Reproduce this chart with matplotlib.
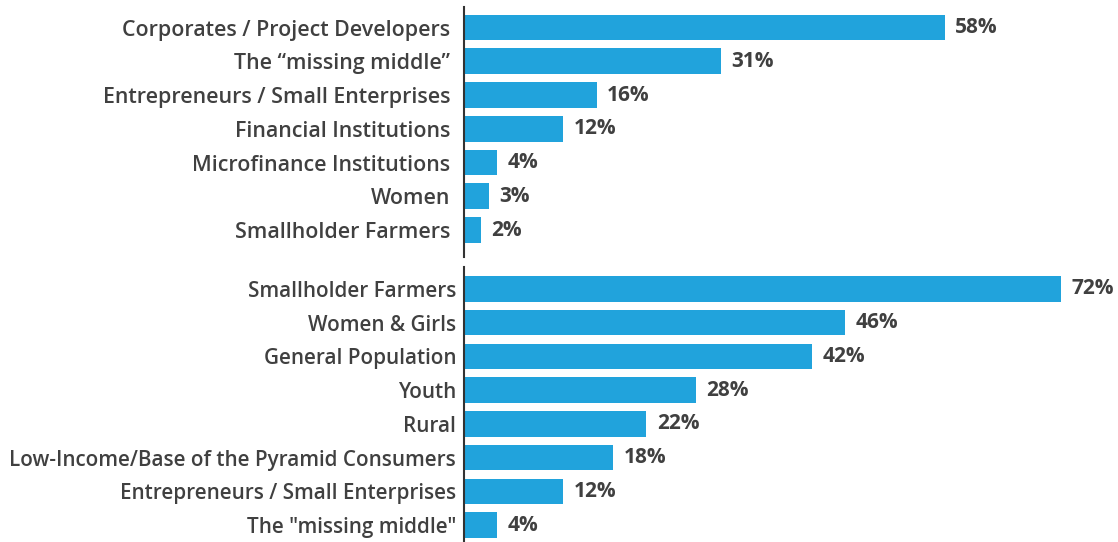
import matplotlib
matplotlib.use("Agg")
import matplotlib.pyplot as plt

top_labels = ["Corporates / Project Developers", "The \u201cmissing middle\u201d",
              "Entrepreneurs / Small Enterprises", "Financial Institutions",
              "Microfinance Institutions", "Women", "Smallholder Farmers"]
top_values = [58, 31, 16, 12, 4, 3, 2]

bottom_labels = ["Smallholder Farmers", "Women & Girls", "General Population", "Youth",
                 "Rural", "Low-Income/Base of the Pyramid Consumers",
                 "Entrepreneurs / Small Enterprises", "The \"missing middle\""]
bottom_values = [72, 46, 42, 28, 22, 18, 12, 4]

BAR = "#21a3dc"
TXT = "#404040"
plt.rcParams['font.family'] = ['Open Sans', 'DejaVu Sans']

W, H = 1118, 542
fig = plt.figure(figsize=(W / 100, H / 100), dpi=100)
left = 464 / W
xmax = 78
width = (xmax * 8.29) / W

ax1 = fig.add_axes([left, 1 - 257 / H, width, (257 - 7) / H])
ax2 = fig.add_axes([left, 0, width, (542 - 267) / H])

def draw(ax, labels, values, ylim, fsize, pad):
    y = list(range(len(labels)))
    ax.barh(y, values, height=0.76, color=BAR)
    ax.set_ylim(*ylim)
    ax.set_xlim(0, xmax)
    ax.set_yticks(y)
    ax.set_yticklabels(labels, fontsize=fsize, color=TXT, fontweight=600)
    ax.tick_params(axis='y', length=0, pad=pad)
    ax.set_xticks([])
    for s in ['top', 'right', 'bottom']:
        ax.spines[s].set_visible(False)
    ax.spines['left'].set_color('#333333')
    ax.spines['left'].set_linewidth(1.5)
    for yi, v in zip(y, values):
        ax.annotate(f"{v}%", (v, yi), xytext=(7.5, 0), textcoords='offset points',
                    va='center', ha='left', fontsize=15, fontweight='bold',
                    color=TXT, annotation_clip=False)

draw(ax1, top_labels, top_values, (6.8, -0.61), 15.4, 10)
draw(ax2, bottom_labels, bottom_values, (7.5, -0.65), 14.9, 5.7)

fig.savefig("out.png", dpi=100)
